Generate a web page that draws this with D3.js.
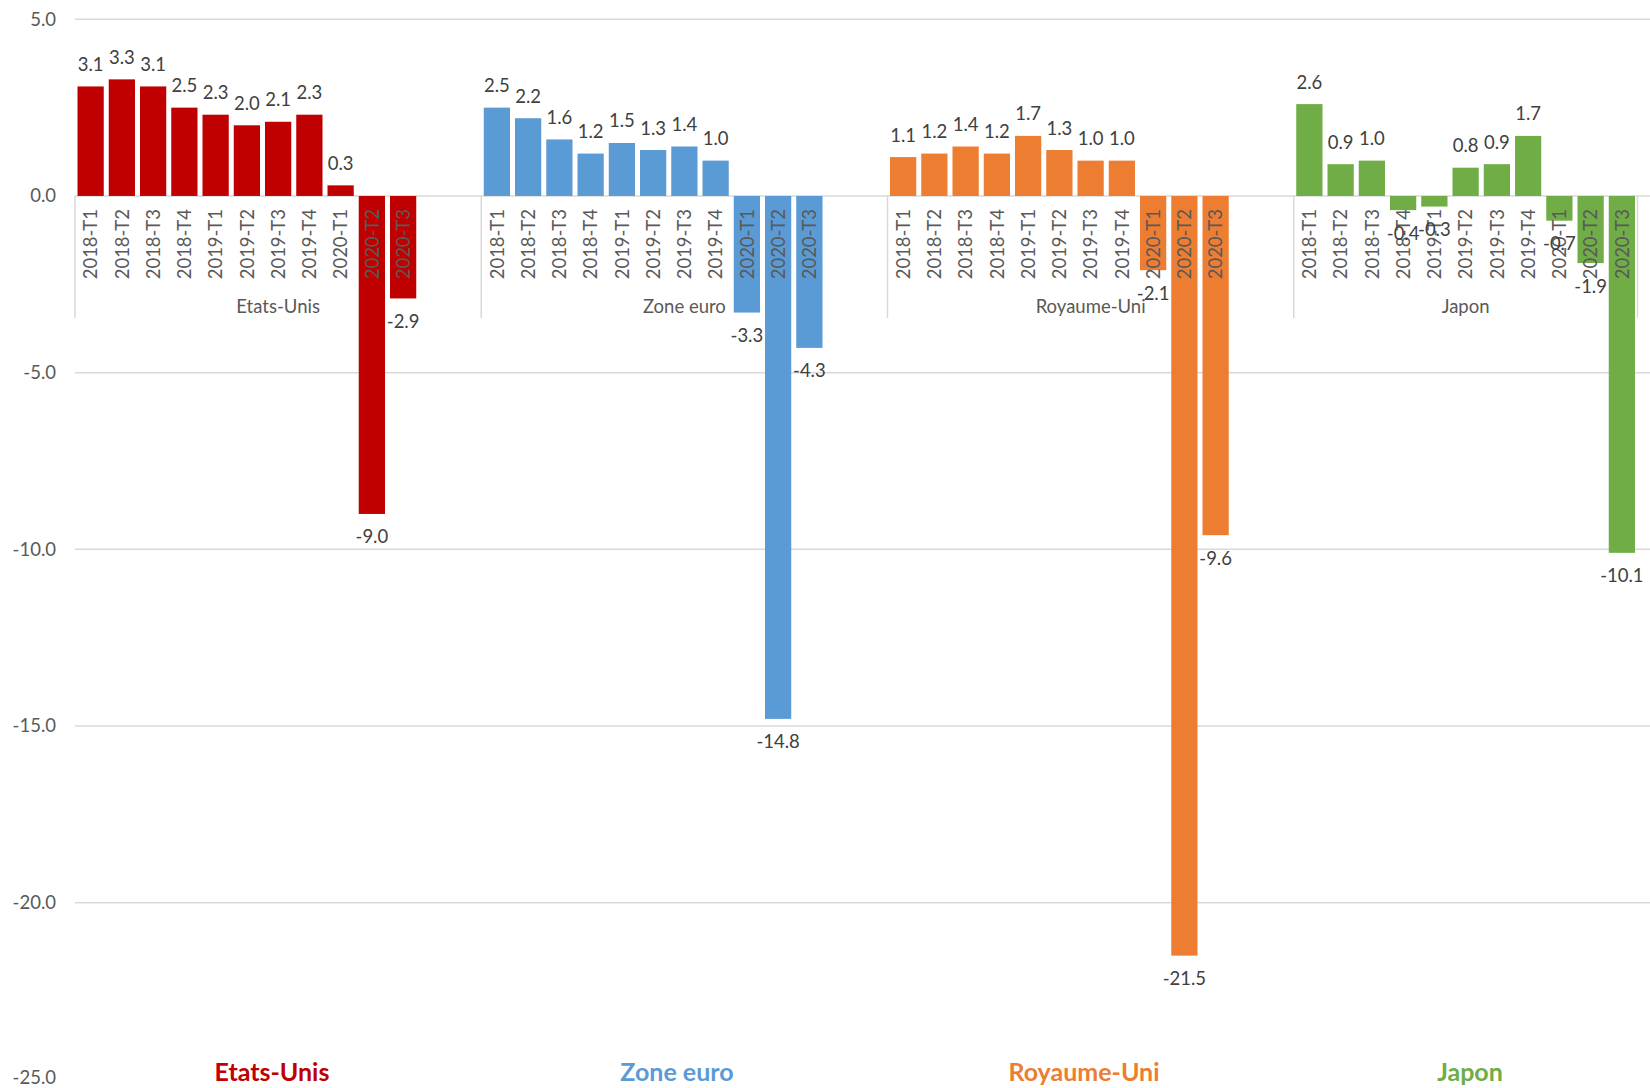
<!DOCTYPE html>
<html>
<head>
<meta charset="utf-8">
<script src="https://cdn.jsdelivr.net/npm/d3@7"></script>
<style>
  html, body { margin: 0; padding: 0; background: #fff; }
  svg { display: block; font-family: Lato, "Open Sans", sans-serif; }
</style>
</head>
<body>
<svg id="chart" width="1650" height="1088"></svg>
<script>
// ---- data ----
const groups = ["Etats-Unis", "Zone euro", "Royaume-Uni", "Japon"];
const quarters = ["2018-T1","2018-T2","2018-T3","2018-T4","2019-T1","2019-T2","2019-T3","2019-T4","2020-T1","2020-T2","2020-T3"];
const usValues    = [3.1, 3.3, 3.1, 2.5, 2.3, 2.0, 2.1, 2.3, 0.3, -9.0, -2.9];
const euroValues  = [2.5, 2.2, 1.6, 1.2, 1.5, 1.3, 1.4, 1.0, -3.3, -14.8, -4.3];
const ukValues    = [1.1, 1.2, 1.4, 1.2, 1.7, 1.3, 1.0, 1.0, -2.1, -21.5, -9.6];
const japanValues = [2.6, 0.9, 1.0, -0.4, -0.3, 0.8, 0.9, 1.7, -0.7, -1.9, -10.1];
const seriesValues = [usValues, euroValues, ukValues, japanValues];
const yTicks = [5, 0, -5, -10, -15, -20, -25];
const gridTicks = [5, 0, -5, -10, -15, -20];
const colors = ["#C00000", "#5B9BD5", "#ED7D31", "#70AD47"];

// ---- layout ----
const svg = d3.select("#chart");
const left = 75, right = 1637.5, gridRight = 1650;
const yTop = 19.3, yBottom = 1079.3;
const fs = 18.5;
const fmt = v => d3.format(".1f")(v).replace("\u2212", "-");

// slots: 11 quarters per group, plus 2 empty slots after each group except the last
const slots = [];
groups.forEach((g, gi) => {
  quarters.forEach((q, qi) => slots.push({key: g + "|" + q, group: gi, q, value: seriesValues[gi][qi]}));
  if (gi < groups.length - 1) {
    slots.push({key: g + "|blank1", group: gi, blank: true});
    slots.push({key: g + "|blank2", group: gi, blank: true});
  }
});

const x = d3.scaleBand().domain(slots.map(d => d.key)).range([left, right])
  .paddingInner(0.16).paddingOuter(0.08);
const y = d3.scaleLinear().domain([-25, 5]).range([yBottom, yTop]);

// gridlines
svg.append("g").selectAll("line").data(gridTicks).join("line")
  .attr("x1", left).attr("x2", gridRight)
  .attr("y1", d => y(d)).attr("y2", d => y(d))
  .attr("stroke", "#D9D9D9").attr("stroke-width", 1.5);

// y-axis labels
const yAxis = d3.axisLeft(y).tickValues(yTicks).tickFormat(fmt).tickSize(0).tickPadding(0);
const yg = svg.append("g").attr("transform", "translate(56,0)").call(yAxis);
yg.select(".domain").remove();
yg.selectAll("text").attr("font-size", fs).attr("fill", "#595959").attr("font-family", "Lato, sans-serif")
  .attr("dy", d => d === -25 ? "0.2em" : "0.32em");

const bars = slots.filter(d => !d.blank);

// bars
svg.append("g").selectAll("rect").data(bars).join("rect")
  .attr("x", d => x(d.key))
  .attr("width", x.bandwidth())
  .attr("y", d => Math.min(y(d.value), y(0)))
  .attr("height", d => Math.abs(y(d.value) - y(0)))
  .attr("fill", d => colors[d.group]);

// group boundary lines
const step = x.step();
const groupStarts = groups.map((g, gi) => x(g + "|2018-T1") - step * 0.08);
const boundaries = groupStarts.concat([x(groups[3] + "|2020-T3") + x.bandwidth() + step * 0.08]);
svg.append("g").selectAll("line").data(boundaries).join("line")
  .attr("x1", d => d).attr("x2", d => d)
  .attr("y1", y(0)).attr("y2", 318)
  .attr("stroke", "#D9D9D9").attr("stroke-width", 1.5);

// category labels (rotated)
svg.append("g").selectAll("text").data(bars).join("text")
  .attr("transform", d => `translate(${x(d.key) + x.bandwidth() / 2},209) rotate(-90)`)
  .attr("text-anchor", "end").attr("dy", "0.36em")
  .attr("font-size", fs).attr("fill", "#595959")
  .text(d => d.q);

// group labels
svg.append("g").selectAll("text").data(groups).join("text")
  .attr("x", (g, gi) => {
    const first = x(g + "|2018-T1"), last = x(g + "|2020-T3") + x.bandwidth();
    const end = gi < groups.length - 1 ? x(g + "|blank2") + x.bandwidth() : last;
    return (first + end) / 2;
  })
  .attr("y", 307).attr("dy", "0.35em")
  .attr("text-anchor", "middle").attr("font-size", fs).attr("fill", "#595959")
  .text(g => g);

// data labels
svg.append("g").selectAll("text").data(bars).join("text")
  .attr("x", d => x(d.key) + x.bandwidth() / 2)
  .attr("y", d => d.value >= 0 ? y(d.value) - 22 : y(d.value) + 23)
  .attr("dy", "0.35em")
  .attr("text-anchor", "middle").attr("font-size", fs).attr("fill", "#404040")
  .text(d => fmt(d.value));

// bottom coloured titles
const titleX = [272, 677, 1084, 1470];
svg.append("g").selectAll("text").data(groups).join("text")
  .attr("x", (g, i) => titleX[i]).attr("y", 1081)
  .attr("text-anchor", "middle").attr("font-size", 25).attr("font-weight", "bold")
  .attr("fill", (g, i) => colors[i])
  .text(g => g);
</script>
</body>
</html>
